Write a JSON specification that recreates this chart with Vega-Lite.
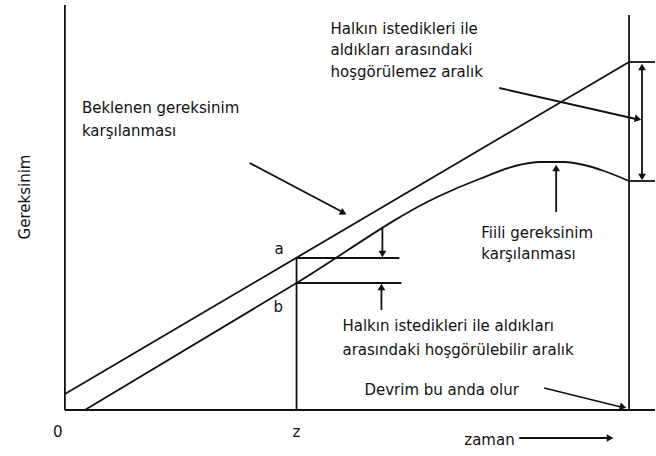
{
  "$schema": "https://vega.github.io/schema/vega-lite/v6.json",
  "width": 656,
  "height": 456,
  "autosize": {"type": "fit", "contains": "padding"},
  "padding": 0,
  "background": "white",
  "config": {"view": {"stroke": null}},
  "datasets": {
    "curves": [
      {"series": "beklenen", "t": 0, "v": 16},
      {"series": "beklenen", "t": 565, "v": 348},
      {"series": "fiili", "t": 20, "v": 0},
      {"series": "fiili", "t": 232, "v": 127},
      {"series": "fiili", "t": 375, "v": 214},
      {"series": "fiili", "t": 415, "v": 231},
      {"series": "fiili", "t": 455, "v": 245},
      {"series": "fiili", "t": 475, "v": 248},
      {"series": "fiili", "t": 500, "v": 248},
      {"series": "fiili", "t": 520, "v": 245},
      {"series": "fiili", "t": 540, "v": 239},
      {"series": "fiili", "t": 565, "v": 229}
    ],
    "rules": [
      {"name": "y-ekseni", "t": 0, "v": 405, "t2": 0, "v2": 0},
      {"name": "x-ekseni", "t": 0, "v": 0, "t2": 591, "v2": 0},
      {"name": "z", "t": 232, "v": 152, "t2": 232, "v2": 0},
      {"name": "devrim", "t": 565, "v": 395, "t2": 565, "v2": 0},
      {"name": "a-duzey", "t": 232, "v": 152, "t2": 335, "v2": 152},
      {"name": "b-duzey", "t": 232, "v": 127, "t2": 337, "v2": 127},
      {"name": "sag-ust", "t": 565, "v": 348, "t2": 591, "v2": 348},
      {"name": "sag-alt", "t": 565, "v": 229, "t2": 591, "v2": 229},
      {"name": "cift-ok", "t": 578, "v": 343, "t2": 578, "v2": 233},
      {"name": "ok-beklenen", "t": 185, "v": 247, "t2": 278, "v2": 198},
      {"name": "ok-hosgorulemez", "t": 435, "v": 322, "t2": 572, "v2": 291},
      {"name": "ok-fiili", "t": 492, "v": 198, "t2": 492, "v2": 240},
      {"name": "ok-a", "t": 318, "v": 182, "t2": 318, "v2": 158},
      {"name": "ok-b", "t": 317, "v": 100, "t2": 317, "v2": 120},
      {"name": "ok-devrim", "t": 480, "v": 22, "t2": 557, "v2": 3},
      {"name": "ok-zaman", "t": 455, "v": -28, "t2": 543, "v2": -28}
    ],
    "heads": [
      {"name": "ok-beklenen", "t": 279, "v": 197, "dir": 118},
      {"name": "ok-hosgorulemez", "t": 574, "v": 291, "dir": 103},
      {"name": "ok-fiili", "t": 492, "v": 242, "dir": 0},
      {"name": "ok-a", "t": 318, "v": 156, "dir": 180},
      {"name": "ok-b", "t": 317, "v": 123, "dir": 0},
      {"name": "cift-ok-ust", "t": 578, "v": 343, "dir": 0},
      {"name": "cift-ok-alt", "t": 578, "v": 233, "dir": 180},
      {"name": "ok-devrim", "t": 559, "v": 3, "dir": 104},
      {"name": "ok-zaman", "t": 546, "v": -28, "dir": 90}
    ],
    "labels": [
      {"text": "Halkın istedikleri ile", "t": 266, "v": 381},
      {"text": "aldıkları arasındaki", "t": 266, "v": 360},
      {"text": "hoşgörülemez aralık", "t": 266, "v": 338},
      {"text": "Beklenen gereksinim", "t": 17, "v": 302},
      {"text": "karşılanması", "t": 17, "v": 279},
      {"text": "Fiili gereksinim", "t": 417, "v": 177},
      {"text": "karşılanması", "t": 417, "v": 156},
      {"text": "Halkın istedikleri ile aldıkları", "t": 278, "v": 84},
      {"text": "arasındaki hoşgörülebilir aralık", "t": 278, "v": 60},
      {"text": "Devrim bu anda olur", "t": 300, "v": 20},
      {"text": "zaman", "t": 400, "v": -30},
      {"text": "0", "t": -12, "v": -22},
      {"text": "z", "t": 228, "v": -22},
      {"text": "a", "t": 210, "v": 161},
      {"text": "b", "t": 209, "v": 103}
    ],
    "ytitle": [
      {"text": "Gereksinim", "t": -40, "v": 213}
    ]
  },
  "layer": [
    {
      "data": {"name": "rules"},
      "mark": {"type": "rule", "color": "#111", "strokeWidth": 1.8},
      "encoding": {
        "x": {"field": "t", "type": "quantitative", "scale": {"domain": [-65, 591], "nice": false, "zero": false}, "axis": null},
        "y": {"field": "v", "type": "quantitative", "scale": {"domain": [-46, 410], "nice": false, "zero": false}, "axis": null},
        "x2": {"field": "t2"},
        "y2": {"field": "v2"}
      }
    },
    {
      "data": {"name": "curves"},
      "mark": {"type": "line", "color": "#111", "strokeWidth": 1.8, "interpolate": "monotone"},
      "encoding": {
        "x": {"field": "t", "type": "quantitative", "scale": {"domain": [-65, 591], "nice": false, "zero": false}, "axis": null},
        "y": {"field": "v", "type": "quantitative", "scale": {"domain": [-46, 410], "nice": false, "zero": false}, "axis": null},
        "detail": {"field": "series", "type": "nominal"}
      }
    },
    {
      "data": {"name": "heads"},
      "mark": {"type": "point", "shape": "triangle-up", "filled": true, "color": "#111", "size": 60, "opacity": 1},
      "encoding": {
        "x": {"field": "t", "type": "quantitative", "scale": {"domain": [-65, 591], "nice": false, "zero": false}, "axis": null},
        "y": {"field": "v", "type": "quantitative", "scale": {"domain": [-46, 410], "nice": false, "zero": false}, "axis": null},
        "angle": {"field": "dir", "type": "quantitative", "scale": null}
      }
    },
    {
      "data": {"name": "labels"},
      "mark": {"type": "text", "align": "left", "baseline": "middle", "font": "DejaVu Sans", "fontSize": 15, "color": "#111"},
      "encoding": {
        "x": {"field": "t", "type": "quantitative", "scale": {"domain": [-65, 591], "nice": false, "zero": false}, "axis": null},
        "y": {"field": "v", "type": "quantitative", "scale": {"domain": [-46, 410], "nice": false, "zero": false}, "axis": null},
        "text": {"field": "text", "type": "nominal"}
      }
    },
    {
      "data": {"name": "ytitle"},
      "mark": {"type": "text", "align": "center", "baseline": "middle", "angle": 270, "font": "DejaVu Sans", "fontSize": 15, "color": "#111"},
      "encoding": {
        "x": {"field": "t", "type": "quantitative", "scale": {"domain": [-65, 591], "nice": false, "zero": false}, "axis": null},
        "y": {"field": "v", "type": "quantitative", "scale": {"domain": [-46, 410], "nice": false, "zero": false}, "axis": null},
        "text": {"field": "text", "type": "nominal"}
      }
    }
  ]
}
